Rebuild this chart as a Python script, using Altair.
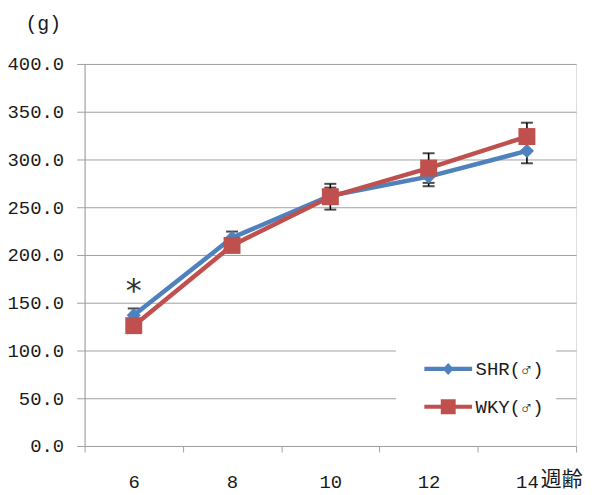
import altair as alt
import pandas as pd

# ---- data ----
weeks = [6, 8, 10, 12, 14]
series_names = ["SHR(♂)", "WKY(♂)"]
shr_mean = [137, 218, 262, 282, 309]
shr_sd = [7, 6.5, 8.5, 10, 13]
wky_mean = [126, 210, 261, 291, 324]
wky_sd = [6, 6, 13.5, 15.5, 14.5]
colors = ["#4F81BD", "#C0504D"]
y_ticks = [0, 50, 100, 150, 200, 250, 300, 350, 400]
sig_weeks = [6]
sig_labels = ["*"]
sig_values = [168]

rows = []
for name, means, sds in [(series_names[0], shr_mean, shr_sd), (series_names[1], wky_mean, wky_sd)]:
    for w, m, s in zip(weeks, means, sds):
        rows.append({"week": w, "series": name, "mean": m, "lo": m - s, "hi": m + s})
df = pd.DataFrame(rows)
sig_df = pd.DataFrame({"week": sig_weeks, "label": sig_labels, "value": sig_values})

FONT = "Liberation Mono"
LEG_FONT = "Liberation Mono, Noto Sans CJK JP"
TXT = "#1a1a1a"
GRID = "#a0a0a0"

xaxis = alt.Axis(
    title="週齢", titleFont="Noto Sans CJK JP", titleFontSize=21, titleFontWeight="normal",
    titleColor=TXT, titleX=479, titleY=34, titleAlign="center", titleBaseline="middle", titleAngle=0,
    labelFont=FONT, labelFontSize=19, labelColor=TXT, labelAngle=0, labelPadding=30,
    labelBaseline="middle", tickBand="extent", tickSize=6, tickColor=GRID, domainColor=GRID,
    grid=False,
)
yaxis = alt.Axis(
    title="(g)", titleFont=FONT, titleFontSize=20, titleFontWeight="normal", titleColor=TXT,
    titleX=-42, titleY=-41, titleAlign="center", titleBaseline="middle", titleAngle=0,
    values=y_ticks, format=".1f", labelFont=FONT, labelFontSize=19, labelColor=TXT,
    labelPadding=13, tickSize=8, tickColor=GRID, domainColor=GRID, gridColor=GRID,
)

xscale = alt.Scale(type="band", paddingInner=0, paddingOuter=0, domain=weeks)
yscale = alt.Scale(domain=[0, 400], nice=False, zero=True)
cscale = alt.Scale(domain=series_names, range=colors)


def X():
    return alt.X("week:O", scale=xscale, bandPosition=0.5, axis=xaxis, title="週齢")


def Y(field):
    return alt.Y(field, type="quantitative", scale=yscale, axis=yaxis, title="(g)")


base = alt.Chart(df)

err_rule = base.mark_rule(color="black", strokeWidth=1.6).encode(x=X(), y=Y("lo"), y2="hi")
cap_lo = base.mark_tick(color="black", thickness=2, size=12).encode(x=X(), y=Y("lo"))
cap_hi = base.mark_tick(color="black", thickness=2, size=12).encode(x=X(), y=Y("hi"))

lines = base.mark_line(strokeWidth=4.5).encode(
    x=X(), y=Y("mean"), color=alt.Color("series:N", scale=cscale, legend=None)
)
pts_shr = base.transform_filter(alt.datum.series == series_names[0]).mark_point(
    filled=True, shape="diamond", size=200, opacity=1
).encode(x=X(), y=Y("mean"), color=alt.Color("series:N", scale=cscale, legend=None))
pts_wky = base.transform_filter(alt.datum.series == series_names[1]).mark_point(
    filled=True, shape="square", size=290, opacity=1
).encode(x=X(), y=Y("mean"), color=alt.Color("series:N", scale=cscale, legend=None))

# legend symbols: line segment + marker, as custom symbol paths (units of r = 7px)
line_part = "M-3.43,-0.29L3.43,-0.29L3.43,0.29L-3.43,0.29Z"
shr_sym = line_part + "M0,-0.86L0.79,0L0,0.86L-0.79,0Z"
wky_sym = line_part + "M-1.07,-1.07L1.07,-1.07L1.07,1.07L-1.07,1.07Z"

leg = alt.Legend(
    title=None, orient="none", legendX=313, legendY=285, fillColor="white", padding=12,
    rowPadding=18, labelFont=LEG_FONT, labelFontSize=19, labelColor=TXT, symbolSize=196,
    symbolStrokeWidth=0, symbolOffset=31, labelOffset=18, labelLimit=300,
    labelExpr="datum.label + '\u00a0\u00a0\u00a0'",
)
legend_layer = base.transform_filter("datum.mean < 0").mark_point(
    filled=True, strokeWidth=0, opacity=1
).encode(
    x=X(), y=Y("mean"),
    color=alt.Color("series:N", scale=cscale, legend=leg),
    shape=alt.Shape("series:N", scale=alt.Scale(domain=series_names, range=[shr_sym, wky_sym]), legend=leg),
)

sig = alt.Chart(sig_df).mark_text(font="DejaVu Sans", fontSize=32, color="#333333", dy=6).encode(
    x=X(), y=Y("value"), text="label:N"
)

chart = alt.layer(legend_layer, err_rule, cap_lo, cap_hi, lines, pts_shr, pts_wky, sig).properties(
    width=494, height=384, autosize="none",
    padding={"left": 77, "top": 55, "right": 13, "bottom": 48},
).configure_view(stroke=GRID, strokeWidth=1).configure(background="white")

chart.save("out.html", embed_options={"renderer": "svg", "actions": False})
